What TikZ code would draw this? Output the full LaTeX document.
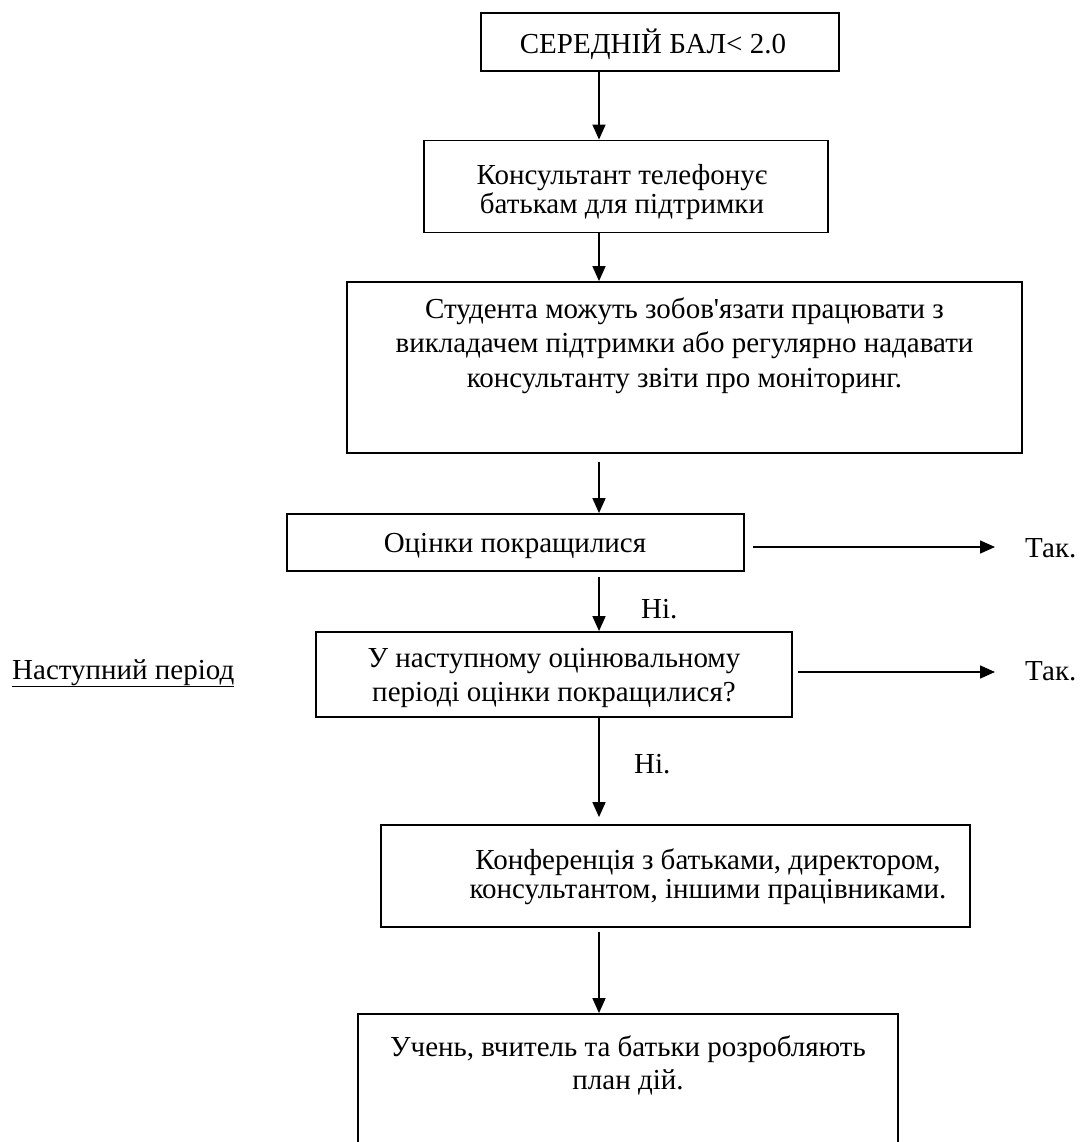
\documentclass[tikz,border=0pt]{standalone}
\usepackage{fontspec}
\setmainfont{Liberation Serif}
\usetikzlibrary{arrows.meta}
\begin{document}
\begin{tikzpicture}[x=1pt,y=-1pt,
  box/.style={draw,line width=1.8pt,rectangle,inner sep=0pt},
  txt/.style={align=center,inner sep=0pt,font=\fontsize{29}{34}\selectfont},
  lbl/.style={inner sep=0pt,anchor=base west,font=\fontsize{29}{34}\selectfont},
  arr/.style={line width=1.5pt,-{Triangle[length=15pt,width=13pt]}}]
\useasboundingbox (0,0) rectangle (1083,1142);
\clip (0,0) rectangle (1083,1142);
\coordinate (ax) at (599,0);
% boxes
\node[box,minimum width=358pt,minimum height=58pt] (b1) at (660,42) {};
\node[box,minimum width=404pt,minimum height=92pt] (b2) at (626,186.5) {};
\node[box,minimum width=675pt,minimum height=171pt] (b3) at (684.5,367.5) {};
\node[box,minimum width=457pt,minimum height=57pt] (b4) at (515.5,542.5) {};
\node[box,minimum width=476pt,minimum height=85pt] (b5) at (554,674.5) {};
\node[box,minimum width=589pt,minimum height=102pt] (b6) at (675.5,876) {};
\node[box,minimum width=540pt,minimum height=160pt] (b7) at (628,1094) {};
% texts
\node[txt,anchor=base] (t1) at (653,54) {СЕРЕДНІЙ БАЛ< 2.0};
\node[txt,font=\fontsize{29}{29}\selectfont] (t2) at (622,192) {Консультант телефонує\\батькам для підтримки};
\node[txt,font=\fontsize{29}{34.5}\selectfont] (t3) at (684.5,345.5) {Студента можуть зобов\textquotesingle язати працювати з\\викладачем підтримки або регулярно надавати\\консультанту звіти про моніторинг.};
\node[txt,anchor=base] (t4) at (515,552) {Оцінки покращилися};
\node[txt] (t5) at (554,678) {У наступному оцінювальному\\періоді оцінки покращилися?};
\node[txt,font=\fontsize{29}{29}\selectfont] (t6) at (708,877) {Конференція з батьками, директором,\\консультантом, іншими працівниками.};
\node[txt,font=\fontsize{29}{33}\selectfont] (t7) at (628,1065) {Учень, вчитель та батьки розробляють\\план дій.};
\node[lbl] (yes1) at (1025,557) {Так.};
\node[lbl] (yes2) at (1025,680) {Так.};
\node[lbl] (no1) at (641,618) {Ні.};
\node[lbl] (no2) at (634,773) {Ні.};
\node[lbl] (next) at (12,679) {\underline{Наступний період}};
% arrows
\draw[arr] (b1.south -| ax) -- (b2.north -| ax);
\draw[arr] (b2.south -| ax) -- (b3.north -| ax);
\draw[arr,shorten <=8pt] (b3.south -| ax) -- (b4.north -| ax);
\draw[arr,shorten <=5pt] (b4.south -| ax) -- (b5.north -| ax);
\draw[arr,shorten >=7pt] (b5.south -| ax) -- (b6.north -| ax);
\draw[arr,shorten <=4pt] (b6.south -| ax) -- (b7.north -| ax);
\draw[arr,shorten <=8pt,shorten >=30pt] (b4.east |- 0,547) -- (yes1.west |- 0,547);
\draw[arr,shorten <=5pt,shorten >=30pt] (b5.east |- 0,672) -- (yes2.west |- 0,672);
\end{tikzpicture}
\end{document}
